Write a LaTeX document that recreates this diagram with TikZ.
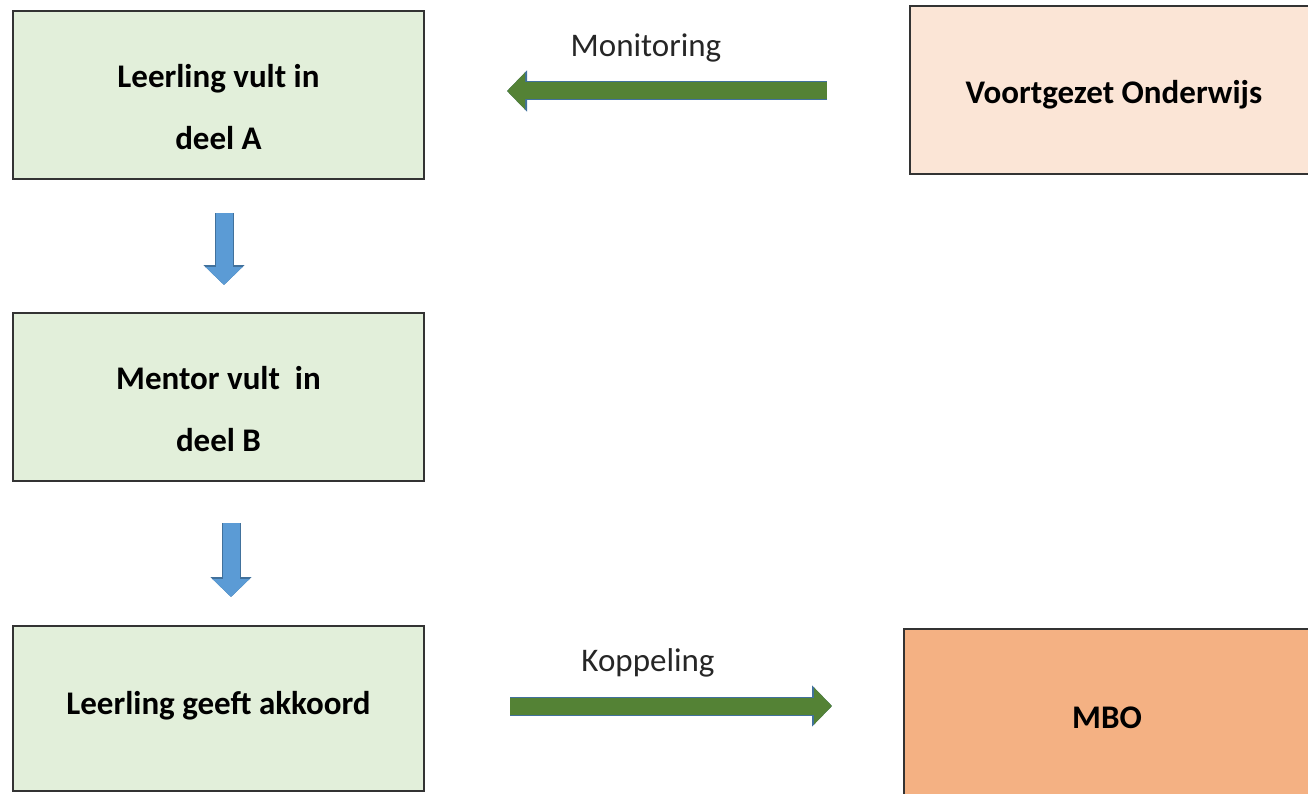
\documentclass[tikz,border=0pt]{standalone}
\usepackage{fontspec}
\setmainfont{Carlito}
\usepackage{xcolor}
\usepackage{tikz}
\usetikzlibrary{arrows.meta, positioning, calc}

\definecolor{stepgreen}{HTML}{E2EFDA}
\definecolor{vopeach}{HTML}{FBE5D6}
\definecolor{mboorange}{HTML}{F4B183}
\definecolor{flowgreen}{HTML}{548235}
\definecolor{flowblue}{HTML}{5B9BD5}
\definecolor{flowedge}{HTML}{41719C}

\begin{document}
\begin{tikzpicture}[
      x=1pt, y=-1pt,
      node distance=132pt,
      stepbox/.style={rectangle, draw=black!80, line width=2pt, fill=stepgreen, minimum width=411pt, minimum height=168pt, align=center, font=\fontsize{33}{62}\selectfont\bfseries},
      partybox/.style={rectangle, draw=black!80, line width=2pt, minimum width=406pt, minimum height=168pt, align=center, font=\fontsize{33}{40}\selectfont\bfseries},
      flow_label/.style={font=\fontsize{33}{40}\selectfont, text=black!85},
      blockarrow/.style={line width=17pt, -{Triangle[length=18pt, width=36pt]},
        preaction={draw=flowedge, line width=19pt, -{Triangle[length=20pt, width=40pt]}}},
      greenflow/.style={blockarrow, draw=flowgreen},
      blueflow/.style={blockarrow, draw=flowblue}
  ]
  \path[use as bounding box, clip] (0,0) rectangle (1308,794);

  \node[stepbox] (deelA) at (218.5,95) {\rule{0pt}{47pt}Leerling vult in\\deel A};
  \node[stepbox] (deelB) [below=of deelA] {\rule{0pt}{47pt}Mentor vult~~in\\deel B};
  \node[stepbox, minimum height=165pt] (akkoord) [below=143pt of deelB] {Leerling geeft akkoord\rule[-12pt]{0pt}{12pt}};

  \node[partybox, fill=vopeach, minimum width=409pt] (vo) at (1114,90.5) {\rule{0pt}{32pt}Voortgezet Onderwijs};
  \node[partybox, fill=mboorange, minimum height=172pt] (mbo) at (1107,715) {\rule{0pt}{28pt}MBO};

  \coordinate (montail) at (827,91);
  \coordinate (monhead) at (507,91);
  \coordinate (koptail) at (510,706);
  \coordinate (kophead) at (832,706);
  \coordinate (abtail) at (224,213);
  \coordinate (abhead) at (224,285);
  \coordinate (bctail) at (231,523);
  \coordinate (bchead) at (231,597);

  \draw[greenflow] (montail) -- node[flow_label, xshift=-21pt, yshift=43pt] (monitoring) {Monitoring} (monhead);
  \draw[greenflow] (koptail) -- node[flow_label, xshift=-23pt, yshift=43pt] (koppeling) {Koppeling} (kophead);

  \draw[blueflow] (abtail) -- (abhead);
  \draw[blueflow] (bctail) -- (bchead);

\end{tikzpicture}
\end{document}
